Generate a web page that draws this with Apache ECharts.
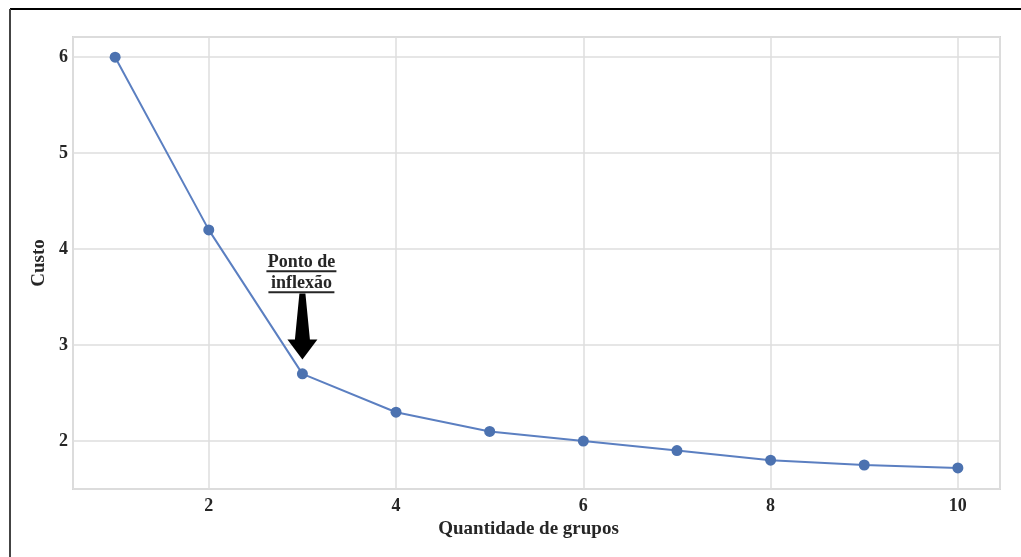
<!DOCTYPE html>
<html>
<head>
<meta charset="utf-8">
<script src="https://cdn.jsdelivr.net/npm/echarts@6/dist/echarts.min.js"></script>
<style>html,body{margin:0;padding:0;background:#fff;}#c{width:1021px;height:557px;}</style>
</head>
<body>
<div id="c"></div>
<script>
const groups = [1, 2, 3, 4, 5, 6, 7, 8, 9, 10];
const cost = [6.0, 4.2, 2.7, 2.3, 2.1, 2.0, 1.9, 1.8, 1.75, 1.72];
const xTitle = 'Quantidade de grupos';
const yTitle = 'Custo';
const annotationLines = ['Ponto de', 'inflexão'];
const annotationPoint = [3, 2.7];

const FONT = "'Liberation Serif', 'Times New Roman', serif";
const TXT = '#262626';
const chart = echarts.init(document.getElementById('c'), null, {renderer: 'canvas'});
const intLabel = v => (Math.abs(v - Math.round(v)) < 1e-9 ? String(Math.round(v)) : '');

chart.setOption({
  animation: false,
  backgroundColor: '#ffffff',
  grid: {left: 73, right: 21, top: 37, bottom: 68, show: true, borderColor: '#d6d6d6', borderWidth: 2, backgroundColor: 'transparent'},
  xAxis: {
    type: 'value', min: 0.55, max: 10.45, splitNumber: 5,
    name: xTitle, nameLocation: 'middle', nameGap: 28,
    nameTextStyle: {fontFamily: FONT, fontWeight: 'bold', fontSize: 19, color: TXT, padding: [0, 16, 0, 0]},
    axisLine: {show: false}, axisTick: {show: false},
    axisLabel: {formatter: intLabel, fontFamily: FONT, fontWeight: 'bold', fontSize: 18, color: TXT, margin: 8, showMinLabel: false, showMaxLabel: false},
    splitLine: {show: true, lineStyle: {color: '#dedede', width: 1.5}}
  },
  yAxis: {
    type: 'value', min: 1.5, max: 6.21, splitNumber: 5,
    name: yTitle, nameLocation: 'middle', nameGap: 23, nameRotate: 90,
    nameTextStyle: {fontFamily: FONT, fontWeight: 'bold', fontSize: 19, color: TXT},
    axisLine: {show: false}, axisTick: {show: false},
    axisLabel: {formatter: intLabel, fontFamily: FONT, fontWeight: 'bold', fontSize: 18, color: TXT, margin: 5, showMinLabel: false, showMaxLabel: false},
    splitLine: {show: true, lineStyle: {color: '#dedede', width: 1.5}}
  },
  series: [{
    type: 'line',
    data: groups.map((g, i) => [g, cost[i]]),
    symbol: 'circle', symbolSize: 11,
    lineStyle: {color: '#5b7fc1', width: 2},
    itemStyle: {color: '#4c72b0'},
    z: 5
  }]
});

function drawAnnotation() {
  const tip = chart.convertToPixel({seriesIndex: 0}, [annotationPoint[0], annotationPoint[1] + 0.15]);
  const textBase = chart.convertToPixel({seriesIndex: 0}, [annotationPoint[0], 3.8]);
  const tx = tip[0], ty = tip[1];
  const cx = textBase[0] - 1;
  const elements = [
    {type: 'line', shape: {x1: 10, y1: 9, x2: 1021, y2: 9}, style: {stroke: '#000', lineWidth: 2}, silent: true},
    {type: 'line', shape: {x1: 10, y1: 9, x2: 10, y2: 557}, style: {stroke: '#444', lineWidth: 2}, silent: true},
    {type: 'polygon', shape: {points: [
      [tx - 3, ty - 66], [tx + 3, ty - 66], [tx + 7.5, ty - 20], [tx + 15, ty - 20],
      [tx, ty], [tx - 15, ty - 20], [tx - 7.5, ty - 20]
    ]}, style: {fill: '#000'}, z: 10}
  ];
  const widths = [70, 66];
  annotationLines.forEach((t, i) => {
    const by = textBase[1] + i * 21;
    elements.push({type: 'text', x: cx, y: by - 6, style: {text: t, font: "bold 18px " + FONT, fill: TXT, align: 'center', verticalAlign: 'middle'}, z: 10});
    elements.push({type: 'line', shape: {x1: cx - widths[i] / 2, y1: by + 3, x2: cx + widths[i] / 2, y2: by + 3}, style: {stroke: TXT, lineWidth: 2}, z: 10});
  });
  chart.setOption({graphic: {elements: elements}});
}
drawAnnotation();
</script>
</body>
</html>
